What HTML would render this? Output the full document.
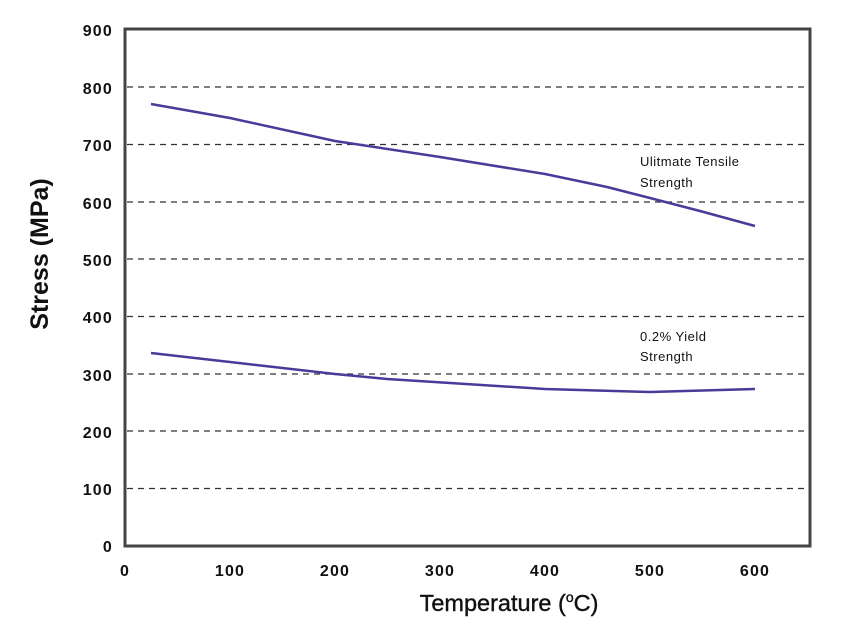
<!DOCTYPE html>
<html><head><style>body{margin:0;background:#fff}</style></head><body>
<svg width="857" height="622" xmlns="http://www.w3.org/2000/svg" font-family="Liberation Sans, sans-serif">
<rect width="857" height="622" fill="#fff"/>
<g stroke="#333" stroke-width="1.3" stroke-dasharray="6,5">
<line x1="127" x2="808" y1="87" y2="87"/><line x1="127" x2="808" y1="144.5" y2="144.5"/>
<line x1="127" x2="808" y1="202" y2="202"/><line x1="127" x2="808" y1="259" y2="259"/>
<line x1="127" x2="808" y1="316.5" y2="316.5"/><line x1="127" x2="808" y1="374" y2="374"/>
<line x1="127" x2="808" y1="431" y2="431"/><line x1="127" x2="808" y1="488.5" y2="488.5"/>
</g>
<rect x="125" y="29" width="685" height="517" fill="none" stroke="#444" stroke-width="3"/>
<g font-size="16" font-weight="bold" fill="#111" text-anchor="end" letter-spacing="1.2">
<text x="113" y="36">900</text><text x="113" y="94">800</text><text x="113" y="151">700</text>
<text x="113" y="209">600</text><text x="113" y="266">500</text><text x="113" y="323">400</text>
<text x="113" y="381">300</text><text x="113" y="438">200</text><text x="113" y="495">100</text>
<text x="113" y="552">0</text>
</g>
<g font-size="16" font-weight="bold" fill="#111" text-anchor="middle" letter-spacing="1.2">
<text x="125" y="576">0</text><text x="230" y="576">100</text><text x="335" y="576">200</text>
<text x="440" y="576">300</text><text x="545" y="576">400</text><text x="650" y="576">500</text>
<text x="755" y="576">600</text>
</g>
<text x="509" y="611" font-size="23.5" text-anchor="middle" fill="#111" stroke="#111" stroke-width="0.4">Temperature (<tspan font-size="14" dy="-9">o</tspan><tspan dy="9">C)</tspan></text>
<text transform="translate(48,254) rotate(-90)" font-size="25" font-weight="bold" text-anchor="middle" fill="#111">Stress (MPa)</text>
<g fill="none" stroke="#4a3a9a" stroke-width="2.5" stroke-linejoin="round">
<path d="M151,104 L230,118 L335,141 L440,157 L545,174 L607,187 L650,198 L700,211 L755,226"/>
<path d="M151,353 L230,362 L335,374 L387,379 L545,389 L650,392 L755,389"/>
</g>
<g font-size="13" fill="#111" letter-spacing="0.5">
<text x="640" y="166">Ulitmate Tensile</text><text x="640" y="187">Strength</text>
<text x="640" y="341">0.2% Yield</text><text x="640" y="361">Strength</text>
</g>
</svg>
</body></html>
